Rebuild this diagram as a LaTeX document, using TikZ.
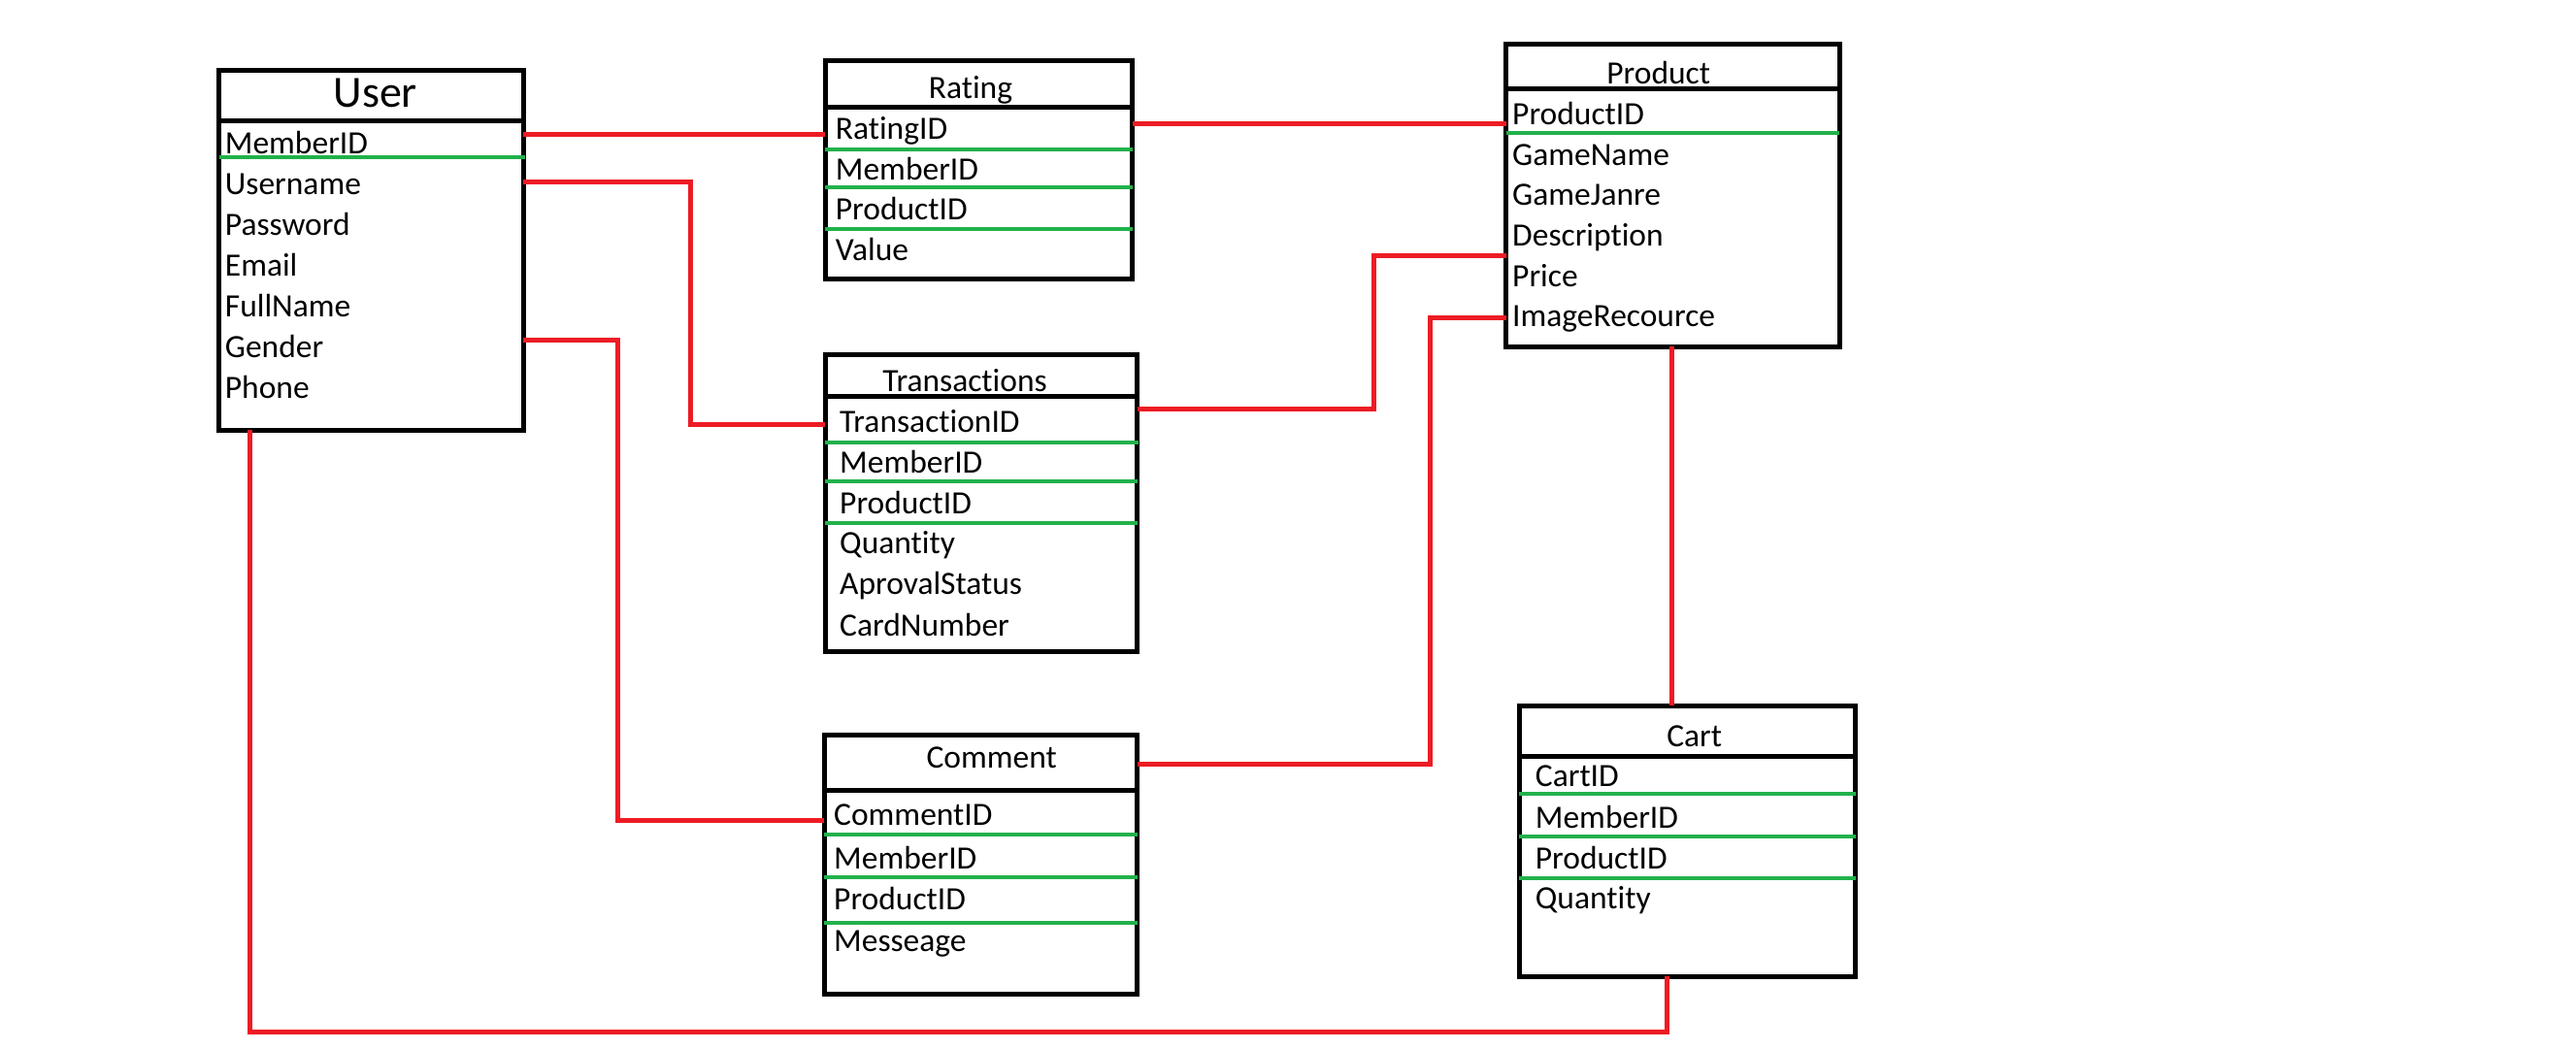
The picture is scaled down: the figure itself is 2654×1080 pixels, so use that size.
\documentclass[tikz,border=0pt]{standalone}
\usepackage{fontspec}
\setmainfont{Carlito}[Ligatures=NoCommon]
\definecolor{pkgreen}{RGB}{34,177,76}
\definecolor{relred}{RGB}{237,28,36}
\begin{document}
\begin{tikzpicture}[x=1pt,y=-1pt,
  tbl/.style={draw=black, line width=5pt, anchor=north west, inner sep=0pt, outer sep=0pt},
  sepl/.style={draw=black, line width=5pt},
  pk/.style={draw=pkgreen, line width=3.5pt},
  rel/.style={draw=relred, line width=5pt, line join=miter},
  fld/.style={anchor=base west, inner sep=0pt, font=\fontsize{33.5}{40}\selectfont},
  ttl/.style={anchor=base, inner sep=0pt, font=\fontsize{33.5}{40}\selectfont}]
\fill[white] (0,0) rectangle (2654,1080);
\useasboundingbox (0,0) rectangle (2654,1080);

% ---------- User ----------
\node[tbl, minimum width=313.3pt, minimum height=371pt] (user) at (225.7,72) {};
\draw[sepl] (225.7,124) -- (539,124);
\node[ttl, font=\fontsize{46}{50}\selectfont] (userT) at (386.7,110.7) {User};
\node[fld] (u1) at (231.7,158) {MemberID};
\node[fld] (u2) at (231.7,200.2) {Username};
\node[fld] (u3) at (231.7,242.3) {Password};
\node[fld] (u4) at (231.7,284.4) {Email};
\node[fld] (u5) at (231.7,326.5) {FullName};
\node[fld] (u6) at (231.7,368.6) {Gender};
\node[fld] (u7) at (231.7,410.7) {Phone};
\draw[pk] (225.7,162) -- (541,162);

% ---------- Rating ----------
\node[tbl, minimum width=316.7pt, minimum height=224.3pt] (rating) at (850,62.7) {};
\draw[sepl] (850,110) -- (1166.7,110);
\node[ttl] (ratingT) at (1000,101.7) {Rating};
\node[fld] (r1) at (860.7,143) {RatingID};
\node[fld] (r2) at (860.7,185) {MemberID};
\node[fld] (r3) at (860.7,226.7) {ProductID};
\node[fld] (r4) at (860.7,268) {Value};
\draw[pk] (850,154) -- (1167,154);
\draw[pk] (850,193) -- (1167,193);
\draw[pk] (850,236) -- (1167,236);

% ---------- Product ----------
\node[tbl, minimum width=343.3pt, minimum height=311.3pt] (product) at (1551.7,45.7) {};
\draw[sepl] (1551.7,91.7) -- (1895,91.7);
\node[ttl] (productT) at (1708.7,86) {Product};
\node[fld] (p1) at (1558,128) {ProductID};
\node[fld] (p2) at (1558,170) {GameName};
\node[fld] (p3) at (1558,211.7) {GameJanre};
\node[fld] (p4) at (1558,253) {Description};
\node[fld] (p5) at (1558,295) {Price};
\node[fld] (p6) at (1558,336.7) {ImageRecource};
\draw[pk] (1551.7,137) -- (1895,137);

% ---------- Transactions ----------
\node[tbl, minimum width=321.7pt, minimum height=305.3pt] (trans) at (850,365.7) {};
\draw[sepl] (850,408.3) -- (1171.7,408.3);
\node[ttl] (transT) at (994,403) {Transactions};
\node[fld] (t1) at (865,445) {TransactionID};
\node[fld] (t2) at (865,487) {MemberID};
\node[fld] (t3) at (865,529) {ProductID};
\node[fld] (t4) at (865,570.7) {Quantity};
\node[fld] (t5) at (865,612.5) {AprovalStatus};
\node[fld] (t6) at (865,655) {CardNumber};
\draw[pk] (850,456) -- (1173,456);
\draw[pk] (850,496) -- (1171.7,496);
\draw[pk] (850,539) -- (1171.7,539);

% ---------- Comment ----------
\node[tbl, minimum width=322.4pt, minimum height=267pt] (comment) at (849.3,757.3) {};
\draw[sepl] (849.3,814) -- (1171.7,814);
\node[ttl] (commentT) at (1021.7,791.7) {Comment};
\node[fld] (c1) at (859,850.7) {CommentID};
\node[fld] (c2) at (859,895) {MemberID};
\node[fld] (c3) at (859,937) {ProductID};
\node[fld] (c4) at (859,980.7) {Messeage};
\draw[pk] (849.3,860) -- (1171.7,860);
\draw[pk] (849.3,904) -- (1171.7,904);
\draw[pk] (849.3,951) -- (1171.7,951);

% ---------- Cart ----------
\node[tbl, minimum width=346.7pt, minimum height=278.7pt] (cart) at (1565,727.3) {};
\draw[sepl] (1565,779.3) -- (1911.7,779.3);
\node[ttl] (cartT) at (1745.7,769) {Cart};
\node[fld] (k1) at (1581.7,810.7) {CartID};
\node[fld] (k2) at (1581.7,853) {MemberID};
\node[fld] (k3) at (1581.7,895) {ProductID};
\node[fld] (k4) at (1581.7,936.7) {Quantity};
\draw[pk] (1565,818) -- (1911.7,818);
\draw[pk] (1565,862) -- (1911.7,862);
\draw[pk] (1565,905) -- (1911.7,905);

% ---------- Relations ----------
\draw[rel] (user.east |- 0,138) -- (rating.west |- 0,138);
\draw[rel] (rating.east |- 0,127) -- (product.west |- 0,127);
\draw[rel] (user.east |- 0,187) -- ++(172,0) |- (trans.west |- 0,437);
\draw[rel] (user.east |- 0,350) -- ++(97,0) |- (comment.west |- 0,845);
\draw[rel] (trans.east |- 0,421) -- ++(243.3,0) |- (product.west |- 0,263);
\draw[rel] (comment.east |- 0,787) -- ++(301.3,0) |- (product.west |- 0,327);
\draw[rel] (product.south -| 1722,0) -- (cart.north -| 1722,0);
\draw[rel] (user.south -| 257.5,0) -- ++(0,620) -| (cart.south -| 1717,0);
\end{tikzpicture}
\end{document}
